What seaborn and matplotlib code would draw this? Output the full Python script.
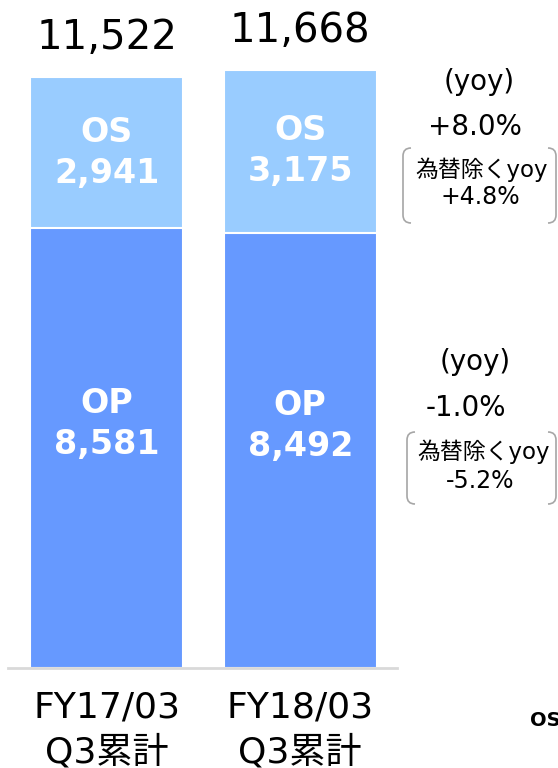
import numpy as np
import pandas as pd
import matplotlib.pyplot as plt
from matplotlib.path import Path
from matplotlib.patches import PathPatch
import seaborn as sns

# datos del grafico
periods = ["FY17/03\nQ3累計", "FY18/03\nQ3累計"]
op_values = [8581, 8492]
os_values = [2941, 3175]
totals = [11522, 11668]

os_yoy = ["(yoy)", "+8.0%", "為替除くyoy", "+4.8%"]
op_yoy = ["(yoy)", "-1.0%", "為替除くyoy", "-5.2%"]

OS_COLOR = "#99ccff"
OP_COLOR = "#6699ff"
W, H = 558, 768

sns.set_style("white")
plt.rcParams['font.family'] = ['DejaVu Sans', 'Noto Sans CJK JP']
plt.rcParams['text.color'] = 'black'
plt.rcParams['xtick.color'] = 'black'

df = pd.DataFrame({"period": periods, "op": op_values, "os": os_values, "total": totals})

fig = plt.figure(figsize=(W / 100, H / 100), dpi=100)
ax = fig.add_axes([8 / W, 100 / H, (397 - 8) / W, 668 / H])

# barras apiladas: total (OS) y encima OP
sns.barplot(data=df, x="period", y="total", color=OS_COLOR, saturation=1,
            width=0.79, edgecolor="white", linewidth=1.5, ax=ax)
sns.barplot(data=df, x="period", y="op", color=OP_COLOR, saturation=1,
            width=0.79, edgecolor="white", linewidth=1.5, ax=ax)

ax.set_xlim(-0.51, 1.50)
ax.set_ylim(0, 13029)
ax.set_xlabel("")
ax.set_ylabel("")
ax.set_yticks([])
for s in ["top", "left", "right"]:
    ax.spines[s].set_visible(False)
ax.spines["bottom"].set_color("#d9d9d9")
ax.spines["bottom"].set_linewidth(2)
ax.tick_params(axis="x", length=0, pad=16, labelsize=26, labelcolor="black")
for lbl in ax.get_xticklabels():
    lbl.set_linespacing(1.38)

for i, row in df.iterrows():
    ax.annotate(f"{row['total']:,}", (i, row["total"]), xytext=(0, 20),
                textcoords="offset points", ha="center", va="baseline", fontsize=29)
    ax.text(i, row["op"] + row["os"] / 2, f"OS\n{row['os']:,}", ha="center", va="center",
            color="white", fontsize=24, fontweight="bold", linespacing=1.3)
    ax.text(i, row["op"] * 0.555, f"OP\n{row['op']:,}", ha="center", va="center",
            color="white", fontsize=24, fontweight="bold", linespacing=1.3)


def fy(py):
    return 1 - py / H


def bracket(x0, x1, y0, y1, r=8):
    # corchetes redondeados a izquierda y derecha
    for xa, d in [(x0, 1), (x1, -1)]:
        verts = [(xa + d * r, y0), (xa, y0), (xa, y0 + r), (xa, y1 - r), (xa, y1), (xa + d * r, y1)]
        codes = [Path.MOVETO, Path.CURVE3, Path.CURVE3, Path.LINETO, Path.CURVE3, Path.CURVE3]
        verts = [(vx / W, fy(vy)) for vx, vy in verts]
        fig.add_artist(PathPatch(Path(verts, codes), transform=fig.transFigure,
                                 fill=False, edgecolor="#a6a6a6", linewidth=1.2))


# anotaciones yoy a la derecha
fig.text(479 / W, fy(82), os_yoy[0], ha="center", va="center", fontsize=20)
fig.text(475 / W, fy(127), os_yoy[1], ha="center", va="center", fontsize=20)
fig.text(482 / W, fy(170), os_yoy[2], ha="center", va="center", fontsize=16.5)
fig.text(480 / W, fy(197), os_yoy[3], ha="center", va="center", fontsize=17)
bracket(403, 556, 148, 223)

fig.text(475 / W, fy(362), op_yoy[0], ha="center", va="center", fontsize=20)
fig.text(466 / W, fy(408), op_yoy[1], ha="center", va="center", fontsize=20)
fig.text(484 / W, fy(452), op_yoy[2], ha="center", va="center", fontsize=16.5)
fig.text(480 / W, fy(481), op_yoy[3], ha="center", va="center", fontsize=17)
bracket(407, 556, 432, 504)

# texto cortado en el borde, como en el original
fig.text(530 / W, fy(721), "OS", ha="left", va="center", fontsize=14, fontweight="bold")

fig.savefig("out.png", dpi=100)
plt.close()
